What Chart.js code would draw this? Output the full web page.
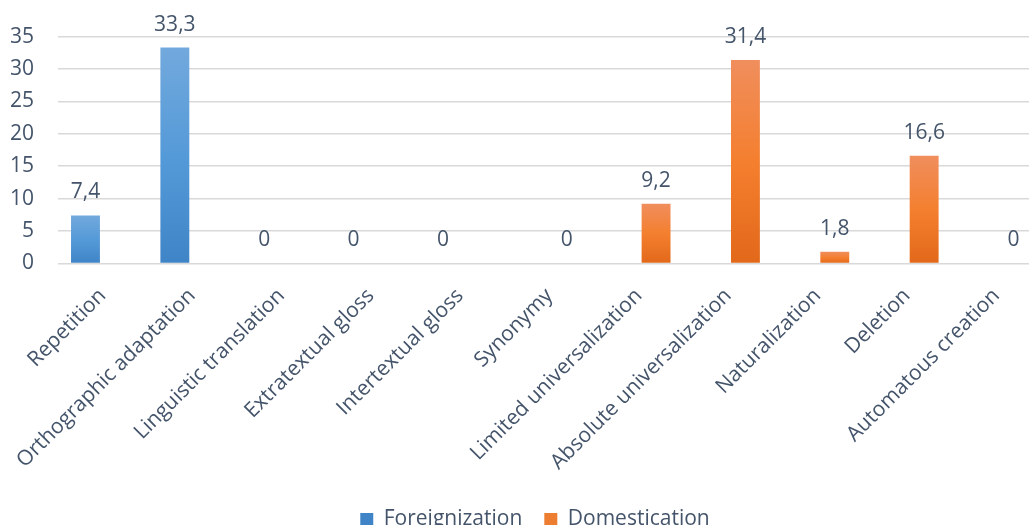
<!DOCTYPE html>
<html>
<head>
<meta charset="utf-8">
<script src="https://cdn.jsdelivr.net/npm/chart.js@4.4.1/dist/chart.umd.min.js"></script>
<style>
  html, body { margin: 0; padding: 0; background: #fff; overflow: hidden; }
  #wrap { width: 1070px; height: 540px; }
</style>
</head>
<body>
<div id="wrap"><canvas id="strategyChart" width="1070" height="540"></canvas></div>
<script>
var categories = [
  "Repetition", "Orthographic adaptation", "Linguistic translation", "Extratextual gloss",
  "Intertextual gloss", "Synonymy", "Limited universalization", "Absolute universalization",
  "Naturalization", "Deletion", "Automatous creation"
];
var foreignization = [7.4, 33.3, 0, 0, 0, null, null, null, null, null, null];
var domestication = [null, null, null, null, null, 0, 9.2, 31.4, 1.8, 16.6, 0];
var yTicks = [0, 5, 10, 15, 20, 25, 30, 35];

var textColor = "#44546a";
var fontFamily = "'Open Sans', 'DejaVu Sans', sans-serif";
var fontSize = 21;

// vertical gradient running from each bar's top down to the baseline
function barFill(top, mid, bottom, flat) {
  return function (c) {
    if (c.type !== "data" || c.raw == null) return flat;
    var y = c.chart.scales.y;
    if (!y || !c.chart.chartArea) return flat;
    var y0 = y.getPixelForValue(c.raw), y1 = y.getPixelForValue(0);
    if (y1 - y0 < 1) return flat;
    var g = c.chart.ctx.createLinearGradient(0, y0, 0, y1);
    g.addColorStop(0, top);
    g.addColorStop(0.5, mid);
    g.addColorStop(1, bottom);
    return g;
  };
}

// value above each bar, decimal comma
var valueLabels = {
  id: "valueLabels",
  afterDatasetsDraw: function (chart) {
    var ctx = chart.ctx;
    ctx.save();
    ctx.font = fontSize + "px " + fontFamily;
    ctx.fillStyle = textColor;
    ctx.textAlign = "center";
    ctx.textBaseline = "alphabetic";
    chart.data.datasets.forEach(function (ds, i) {
      var meta = chart.getDatasetMeta(i);
      meta.data.forEach(function (bar, j) {
        var v = ds.data[j];
        if (v == null) return;
        ctx.fillText(String(v).replace(".", ","), bar.x, bar.y - 17);
      });
    });
    ctx.restore();
  }
};

// centre the legend on the whole canvas, not on the padded box
var legendShift = {
  id: "legendShift",
  afterLayout: function (chart) {
    var lg = chart.legend;
    var d = (chart.width - lg.right - lg.left) / 2;
    lg.left += d;
    lg.right += d;
  }
};

new Chart(document.getElementById("strategyChart"), {
  type: "bar",
  data: {
    labels: categories,
    datasets: [{
      label: "Foreignization",
      data: foreignization,
      backgroundColor: barFill("#72a9dd", "#559ad8", "#3f84c6", "#5b9bd5"),
      categoryPercentage: 0.77,
      barPercentage: 0.84
    }, {
      label: "Domestication",
      data: domestication,
      backgroundColor: barFill("#f08e5d", "#f47f2f", "#e2681a", "#ed7d31"),
      categoryPercentage: 0.77,
      barPercentage: 0.84
    }]
  },
  plugins: [valueLabels, legendShift],
  options: {
    responsive: false,
    animation: false,
    layout: { padding: { top: 31, left: 11, right: 29, bottom: 0 } },
    plugins: {
      tooltip: { enabled: false },
      legend: {
        position: "bottom",
        labels: {
          color: textColor,
          font: { family: fontFamily, size: fontSize },
          boxWidth: 13,
          boxHeight: 13,
          padding: 22
        }
      }
    },
    scales: {
      x: {
        grid: { display: false },
        border: { display: false },
        ticks: {
          color: textColor,
          font: { family: fontFamily, size: fontSize },
          autoSkip: false,
          minRotation: 45,
          maxRotation: 45,
          padding: 12
        },
        // the rotated first label may hang past the y axis
        afterFit: function (axis) {
          axis.paddingLeft = 0;
          axis.paddingRight = 0;
        }
      },
      y: {
        min: 0,
        max: 35,
        afterBuildTicks: function (axis) {
          axis.ticks = yTicks.map(function (v) { return { value: v }; });
        },
        afterFit: function (axis) {
          axis.width = 47;
        },
        grid: { color: "#d9d9d9", lineWidth: 1.5, drawTicks: false },
        border: { display: false },
        ticks: {
          color: textColor,
          font: { family: fontFamily, size: fontSize },
          padding: 24
        }
      }
    }
  }
});
</script>
</body>
</html>
